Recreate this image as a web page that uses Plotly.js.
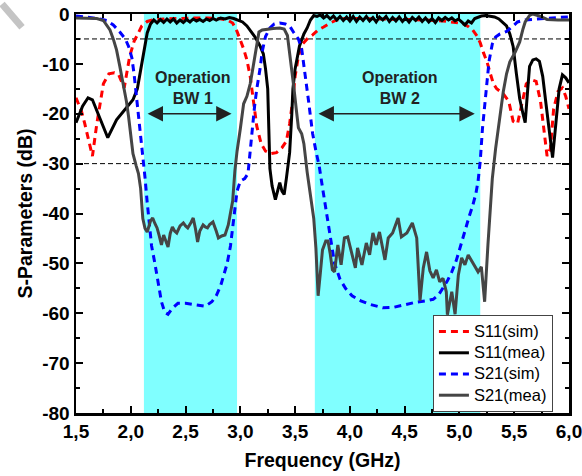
<!DOCTYPE html>
<html>
<head>
<meta charset="utf-8">
<script src="https://cdn.plot.ly/plotly-3.0.1.min.js"></script>
<style>
html,body{margin:0;padding:0;background:#fff;}
#chart{width:582px;height:476px;}
</style>
</head>
<body>
<div id="chart"></div>
<script>
// ---------- data ----------
var s11SimFreq = [1.50,1.55,1.58,1.62,1.65,1.69,1.75,1.80,1.85,1.89,1.94,1.99,2.03,2.06,2.10,2.15,2.20,2.30,2.40,2.50,2.60,2.70,2.80,2.88,2.93,2.97,3.00,3.03,3.06,3.09,3.12,3.15,3.19,3.23,3.28,3.33,3.38,3.42,3.45,3.48,3.50,3.53,3.56,3.61,3.66,3.71,3.76,3.82,3.88,3.95,4.10,4.30,4.50,4.70,4.85,4.95,5.03,5.08,5.12,5.16,5.19,5.22,5.25,5.28,5.31,5.34,5.40,5.45,5.49,5.53,5.57,5.61,5.66,5.70,5.74,5.77,5.80,5.83,5.86,5.90,5.94,5.97,6.00];
var s11SimDb   = [-16.8,-19.5,-22,-26,-28.5,-22,-14,-12,-11.8,-12.2,-14.8,-8.5,-5.5,-4.2,-2.4,-1.5,-1.2,-1.0,-0.9,-0.8,-0.8,-0.8,-0.9,-1.2,-1.8,-3.5,-5.2,-7,-9.2,-12.5,-17.5,-22.5,-26,-27.5,-28,-27.8,-26.8,-25.5,-22,-17,-12.5,-8.5,-6.2,-5,-4.2,-3.2,-2.6,-1.8,-1.2,-0.9,-0.9,-1.0,-1.0,-1.2,-1.4,-1.6,-1.9,-2.5,-3.2,-4.4,-5.8,-7.8,-9.5,-11.8,-14,-15,-16,-17.5,-21.5,-22,-18,-14,-13.2,-13.5,-17.5,-23,-28.5,-27,-19,-15.5,-14.8,-16.5,-19];

var s11MeaFreq = [1.50,1.56,1.61,1.65,1.72,1.79,1.87,1.95,2.02,2.06,2.08,2.10,2.13,2.15,2.18,2.21,
  2.24,2.27,2.30,2.33,2.36,2.39,2.42,2.45,2.48,2.51,2.54,2.57,2.60,2.63,2.66,2.69,2.72,2.75,2.78,2.82,2.86,2.90,2.94,2.98,
  3.02,3.06,3.10,3.14,3.18,3.21,3.23,3.25,3.26,3.27,3.29,3.32,3.34,3.36,3.38,3.40,3.42,3.45,3.47,3.48,3.50,3.52,3.54,3.58,3.61,3.64,3.67,
  3.70,3.73,3.76,3.79,3.82,3.85,3.88,3.91,3.94,3.97,4.00,4.03,4.06,4.09,4.12,4.15,4.18,4.21,4.24,4.27,4.30,4.33,4.36,4.39,4.42,4.45,4.48,4.51,4.54,4.57,4.60,4.63,4.66,4.69,4.72,4.75,4.78,4.81,4.84,4.87,4.90,4.93,4.96,4.99,5.02,5.05,5.08,5.11,5.14,5.17,5.20,5.24,5.28,5.32,
  5.36,5.40,5.43,5.46,5.49,5.52,5.55,5.58,5.60,5.62,5.64,5.67,5.70,5.73,5.76,5.79,5.82,5.85,5.88,5.91,5.94,5.97,6.00];
var s11MeaDb = [-21.8,-18.5,-16.8,-17.2,-21,-24.8,-21.2,-19,-17.2,-15,-12.5,-9.5,-6,-3.8,-2.0,-1.2,
  -1.8,-1.1,-1.7,-1.0,-1.6,-1.0,-1.8,-1.2,-1.7,-1.1,-1.6,-1.0,-1.4,-1.1,-1.5,-1.0,-1.3,-0.9,-1.2,-0.8,-1.0,-0.7,-0.9,-1.2,
  -1.6,-2.4,-3.6,-4.8,-6.4,-8.0,-11,-15,-23,-31,-34.5,-37.2,-35.5,-33.8,-35.5,-36.2,-33,-27.8,-20,-15,-11,-8.6,-6.4,-4,-2.8,-1.2,-0.3,
  -0.5,-0.2,-0.8,-0.3,-1.0,-0.4,-1.2,-0.5,-1.3,-0.6,-1.4,-0.5,-1.5,-0.6,-1.3,-0.5,-1.4,-0.7,-1.6,-0.6,-1.2,-0.5,-1.5,-0.7,-1.4,-0.6,-1.5,-0.8,-1.6,-0.7,-1.3,-0.6,-1.5,-0.8,-1.6,-0.9,-1.7,-0.8,-1.3,-0.7,-1.2,-0.8,-1.4,-1.0,-1.6,-2.2,-1.4,-1.8,-0.9,-0.6,-0.4,-0.3,-0.4,-0.6,
  -1.0,-1.8,-2.4,-4,-6.5,-12,-17,-20,-21.8,-16,-10.5,-9.2,-9.0,-9.5,-12.5,-18,-24,-28.8,-22,-15,-12.2,-12.8,-13.8];

var s21SimFreq = [1.50,1.60,1.70,1.78,1.84,1.90,1.95,1.98,2.01,2.03,2.05,2.07,2.09,2.11,2.13,2.15,2.17,2.19,2.22,2.25,2.28,2.31,2.34,2.38,2.43,2.50,2.56,2.62,2.68,2.74,2.78,2.82,2.85,2.88,2.91,2.93,2.95,2.97,3.00,3.04,3.07,3.09,3.11,3.13,3.15,3.18,3.20,3.23,3.27,3.31,3.36,3.41,3.45,3.49,3.53,3.56,3.58,3.60,3.62,3.64,3.66,3.69,3.72,3.75,3.77,3.80,3.83,3.86,3.91,3.96,4.02,4.10,4.18,4.30,4.40,4.50,4.60,4.70,4.76,4.81,4.85,4.89,4.93,4.97,5.00,5.03,5.06,5.09,5.12,5.15,5.17,5.19,5.21,5.23,5.25,5.27,5.30,5.33,5.37,5.43,5.48,5.53,5.60,5.70,5.80,5.90,6.00];
var s21SimDb   = [-0.4,-0.6,-0.9,-1.3,-2.2,-3.6,-5,-6.5,-8.8,-12,-16,-20.5,-24.5,-28.5,-32.8,-37.8,-42.5,-46.5,-50,-54.3,-57.7,-59.8,-60.2,-59,-58,-58,-58.2,-58.5,-58.6,-57.7,-56.5,-54.5,-52,-50,-46.5,-43,-38.5,-35.5,-33.5,-33,-32,-28,-23,-18.5,-15,-11,-7.5,-4.5,-2.8,-2.0,-1.8,-2.0,-2.4,-3.8,-5,-7,-10,-13.5,-17,-20.5,-24,-27.5,-30.5,-34.8,-37.7,-41.7,-46,-50,-53.2,-55,-56.5,-57.5,-58.2,-58.9,-58.8,-58.3,-57.8,-57.5,-57.2,-56.3,-55,-53.5,-51.7,-49.5,-47.3,-45,-42.5,-40.5,-38.5,-36,-33.5,-29.5,-23,-18,-13.5,-9.5,-6,-4.6,-4.0,-3.5,-2.6,-1.6,-1.2,-1.0,-0.8,-0.7,-0.6];

var s21MeaFreq = [1.50,1.60,1.69,1.75,1.78,1.81,1.84,1.87,1.90,1.93,1.96,1.98,2.00,2.02,2.05,2.07,2.09,2.10,2.11,2.13,2.15,2.18,2.20,2.22,2.24,2.26,2.28,2.30,2.32,2.34,2.36,2.38,2.40,2.42,2.45,2.48,2.50,2.52,2.55,2.57,2.59,2.61,2.63,2.66,2.68,2.70,2.72,2.75,2.78,2.80,2.83,2.86,2.89,2.91,2.93,2.95,2.97,3.00,3.03,3.06,3.09,3.11,3.13,3.15,3.17,3.20,3.25,3.30,3.36,3.40,3.43,3.45,3.47,3.49,3.51,3.53,3.56,3.58,3.61,3.63,3.65,3.67,3.69,3.71,3.73,3.75,3.78,3.80,3.82,3.84,3.86,3.89,3.92,3.95,3.98,4.02,4.05,4.07,4.11,4.15,4.18,4.21,4.24,4.27,4.32,4.35,4.39,4.44,4.47,4.52,4.57,4.61,4.64,4.67,4.70,4.73,4.76,4.79,4.82,4.85,4.88,4.89,4.93,4.96,4.99,5.02,5.05,5.08,5.12,5.17,5.20,5.23,5.26,5.28,5.30,5.33,5.35,5.38,5.40,5.43,5.46,5.51,5.55,5.58,5.60,5.64,5.67,5.73,5.80,5.90,6.00];
var s21MeaDb   = [-0.8,-0.8,-0.9,-1.3,-2.2,-3.2,-5,-7.2,-10.5,-13.8,-17.5,-20.6,-24.5,-28,-30.5,-32,-35,-37.3,-41,-43,-43.7,-41.5,-40.9,-42,-42.9,-44.5,-46.3,-44.3,-45.5,-46.7,-44,-42.7,-43.5,-43.9,-42.5,-41.9,-42.5,-42.9,-41.8,-40.9,-43,-45.7,-43.5,-42.3,-42.7,-42.9,-42.2,-41.7,-43.5,-44.9,-44.5,-44.3,-42.3,-40,-37.5,-31.5,-27.5,-23,-18,-16.5,-14,-11.5,-8.8,-5.5,-3.6,-3.2,-3.0,-2.9,-2.8,-3.0,-4.3,-7.5,-11.6,-15,-19,-22.8,-24,-26,-31.7,-35,-37.5,-41,-47,-56.5,-52,-47.3,-45.5,-45.5,-48,-51.3,-51.7,-46.3,-50.3,-44.9,-44.7,-48.3,-50.9,-46.9,-50.3,-45.9,-48.3,-43.9,-46.3,-43.7,-49.3,-44.9,-43.9,-40.9,-44.7,-43.9,-41.9,-44.9,-57.5,-50.9,-47.7,-51.5,-52.9,-51.3,-53.7,-53,-55.7,-60.3,-55.7,-60.2,-52.3,-48.9,-50.3,-48.3,-49.7,-51.7,-50.7,-57.7,-46.3,-40,-33,-27,-23.6,-19,-15.6,-12,-9.6,-7.6,-5.6,-3,-1.6,-0.3,0,-0.4,-1.1,-1.2,-1.2];

var seriesNames = ['S11(sim)','S11(mea)','S21(sim)','S21(mea)'];
var bandNames  = ['BW 1','BW 2'];
var bandStart  = [2.12, 3.68];
var bandEnd    = [2.97, 5.19];
var refLevels  = [-5, -30];

var xTickVals = [1.5,2.0,2.5,3.0,3.5,4.0,4.5,5.0,5.5,6.0];
var xTickText = ['1,5','2,0','2,5','3,0','3,5','4,0','4,5','5,0','5,5','6,0'];
var yTickVals = [0,-10,-20,-30,-40,-50,-60,-70,-80];
var yTickText = ['0','-10','-20','-30','-40','-50','-60','-70','-80'];

// ---------- chart ----------
var FONT = '"Liberation Sans", Arial, Helvetica, sans-serif';
function legName(s){ return '<span style="font-size:16.5px">'+s+'</span>'; }

var traces = [
  {x:s11SimFreq, y:s11SimDb, name:legName(seriesNames[0]), mode:'lines',
   line:{color:'#ff0000', width:3, dash:'7px,5px'}},
  {x:s11MeaFreq, y:s11MeaDb, name:legName(seriesNames[1]), mode:'lines',
   line:{color:'#000000', width:3}},
  {x:s21SimFreq, y:s21SimDb, name:legName(seriesNames[2]), mode:'lines',
   line:{color:'#0000ff', width:3, dash:'7px,5px'}},
  {x:s21MeaFreq, y:s21MeaDb, name:legName(seriesNames[3]), mode:'lines',
   line:{color:'#454545', width:3}}
];

var shapes = [];
for (var i=0;i<bandStart.length;i++){
  shapes.push({type:'rect', xref:'x', yref:'paper', x0:bandStart[i], x1:bandEnd[i], y0:0, y1:1,
    fillcolor:'#80ffff', line:{width:0}, layer:'below'});
}
refLevels.forEach(function(v){
  shapes.push({type:'line', xref:'paper', yref:'y', x0:0, x1:1, y0:v, y1:v,
    line:{color:'#000', width:1, dash:'5px,3px'}, layer:'below'});
});
// grey diagonal stroke in the top-left corner of the reference
shapes.push({type:'line', xref:'paper', yref:'paper', x0:-0.150, y0:1.025, x1:-0.1095, y1:0.967,
  line:{color:'#c4c4c4', width:7}});

var annotations = [];
for (var j=0;j<bandStart.length;j++){
  var mid = (bandStart[j]+bandEnd[j])/2;
  annotations.push({x:bandEnd[j]-0.05, y:-20, ax:bandStart[j]+0.02, ay:-20, axref:'x', ayref:'y',
    xref:'x', yref:'y', text:'', showarrow:true, arrowside:'end+start', arrowhead:2,
    arrowsize:2.2, arrowwidth:1.4, arrowcolor:'#222', standoff:0, startstandoff:0});
  annotations.push({x:mid+0.02, y:-14.8, xref:'x', yref:'y', text:'Operation<br>'+bandNames[j],
    showarrow:false, font:{family:FONT, size:16, color:'#222', weight:700}});
}

var axisCommon = {
  showline:true, linewidth:2.5, linecolor:'#000', mirror:'allticks',
  ticks:'inside', ticklen:7, tickwidth:2, tickcolor:'#000',
  showgrid:false, zeroline:false, ticklabeloverflow:'allow',
  tickfont:{family:FONT, size:19, color:'#000', weight:700}
};

var layout = {
  width:582, height:476,
  margin:{l:76, r:13, t:14, b:63},
  paper_bgcolor:'#fff', plot_bgcolor:'#fff',
  showlegend:true,
  xaxis:Object.assign({}, axisCommon, {
    range:[1.5,6.0], tickmode:'array', tickvals:xTickVals, ticktext:xTickText,
    minor:{tickmode:'linear', tick0:1.5, dtick:0.25, ticks:'inside', ticklen:4, tickwidth:2, tickcolor:'#000'},
    title:{text:'Frequency (GHz)', font:{family:FONT, size:19.5, color:'#000', weight:700}, standoff:12}
  }),
  yaxis:Object.assign({}, axisCommon, {
    range:[-80,0], tickmode:'array', tickvals:yTickVals, ticktext:yTickText,
    minor:{tickmode:'linear', tick0:0, dtick:5, ticks:'inside', ticklen:4, tickwidth:2, tickcolor:'#000'},
    title:{text:'S-Parameters (dB)', font:{family:FONT, size:19.5, color:'#000', weight:700}, standoff:5}
  }),
  legend:{x:0.724, y:0.2456, xanchor:'left', yanchor:'top',
    bgcolor:'#fff', bordercolor:'#444', borderwidth:1,
    font:{family:FONT, size:14, color:'#000'}, tracegroupgap:0},
  shapes:shapes,
  annotations:annotations
};

Plotly.newPlot('chart', traces, layout, {displayModeBar:false, staticPlot:true});
</script>
</body>
</html>
